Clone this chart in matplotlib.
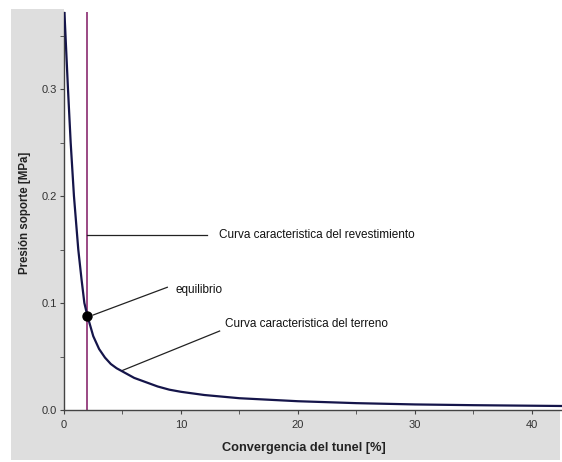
import matplotlib

matplotlib.use("Agg")
import matplotlib.pyplot as plt
from matplotlib.patches import Rectangle

plt.rcParams["font.family"] = ["Liberation Sans", "DejaVu Sans"]

# ground reaction curve
convergencia = [0.0, 0.04, 0.15, 0.34, 0.57, 0.85, 1.22, 1.5, 1.74, 2.0, 2.5,
                3.0, 3.5, 4.0, 4.5, 5.0, 6.0, 7.0, 8.0, 9.0, 10.0, 12.0, 15.0,
                20.0, 25.0, 30.0, 35.0, 40.0, 43.0]
presion = [0.40, 0.371, 0.345, 0.30, 0.25, 0.20, 0.15, 0.122, 0.10, 0.088,
           0.069, 0.057, 0.049, 0.043, 0.039, 0.036, 0.030, 0.026, 0.022,
           0.019, 0.017, 0.014, 0.011, 0.0082, 0.0064, 0.0052, 0.0045,
           0.0040, 0.0037]

# support (lining) curve and equilibrium point
revestimiento_x = 2.0
equilibrio = (2.0, 0.088)

x_ticks = [0, 10, 20, 30, 40]
y_ticks = [0.0, 0.1, 0.2, 0.3]
y_tick_labels = ["0.0", "0.1", "0.2", "0.3"]

W, H = 562, 462
fig = plt.figure(figsize=(W / 100, H / 100), dpi=100)
fig.patch.set_facecolor("white")

# grey L-shaped frame: left strip and bottom strip
grey = "#dedede"
fig.patches.append(
    Rectangle((11 / W, (H - 460) / H), (64 - 11) / W, (460 - 9) / H,
              transform=fig.transFigure, facecolor=grey,
              edgecolor="none", zorder=0)
)
fig.patches.append(
    Rectangle((11 / W, (H - 460) / H), (560 - 11) / W, (460 - 410) / H,
              transform=fig.transFigure, facecolor=grey,
              edgecolor="none", zorder=0)
)

ax = fig.add_axes([64 / W, (H - 410) / H, (W - 64) / W, (410 - 12) / H])
ax.set_facecolor("white")
ax.set_zorder(1)

ax.plot(convergencia, presion, color="#15154a", lw=1.6, zorder=3)
ax.axvline(revestimiento_x, color="#8a2a70", lw=1.2, zorder=2)
ax.plot(*equilibrio, "o", color="black", ms=6.5, zorder=4)

ax.set_xlim(0, (W - 64) / 11.7)
ax.set_ylim(0, (410 - 12) / 1070)

# annotations
line_kw = dict(color="#222222", lw=0.9, zorder=2)
txt_kw = dict(fontsize=8.5, color="#111111", va="center", ha="left")

ax.plot([revestimiento_x, 12.2], [0.1636, 0.1636], **line_kw)
ax.text(13.25, 0.1636, "Curva caracteristica del revestimiento", **txt_kw)

ax.plot([2.5, 8.83], [0.0888, 0.1147], **line_kw)
ax.text(9.55, 0.1125, "equilibrio", **txt_kw)

ax.plot([5.0, 13.3], [0.037, 0.0738], **line_kw)
ax.text(13.8, 0.0805, "Curva caracteristica del terreno", **txt_kw)

for side in ("top", "right"):
    ax.spines[side].set_visible(False)
for side in ("left", "bottom"):
    ax.spines[side].set_color("#444444")
    ax.spines[side].set_linewidth(1.0)

ax.set_xticks(x_ticks)
ax.set_xticks([5, 15, 25, 35], minor=True)
ax.set_yticks(y_ticks)
ax.set_yticklabels(y_tick_labels)
ax.set_yticks([0.05, 0.15, 0.25, 0.35], minor=True)
ax.tick_params(which="both", direction="out", length=3, color="#444444",
               labelsize=8, labelcolor="#333333")
ax.tick_params(axis="x", pad=4)
ax.tick_params(axis="y", pad=2)

ax.set_xlabel("Convergencia del tunel [%]", fontsize=9.2, fontweight="bold",
              color="#222222")
ax.set_ylabel("Presión soporte [MPa]", fontsize=8.3, fontweight="bold",
              color="#222222")
ax.xaxis.set_label_coords((304 - 64) / (W - 64), -(442 - 410) / (410 - 12))
ax.yaxis.set_label_coords(-(64 - 31) / (W - 64), (410 - 213) / (410 - 12))

fig.savefig("out.png", dpi=100)
